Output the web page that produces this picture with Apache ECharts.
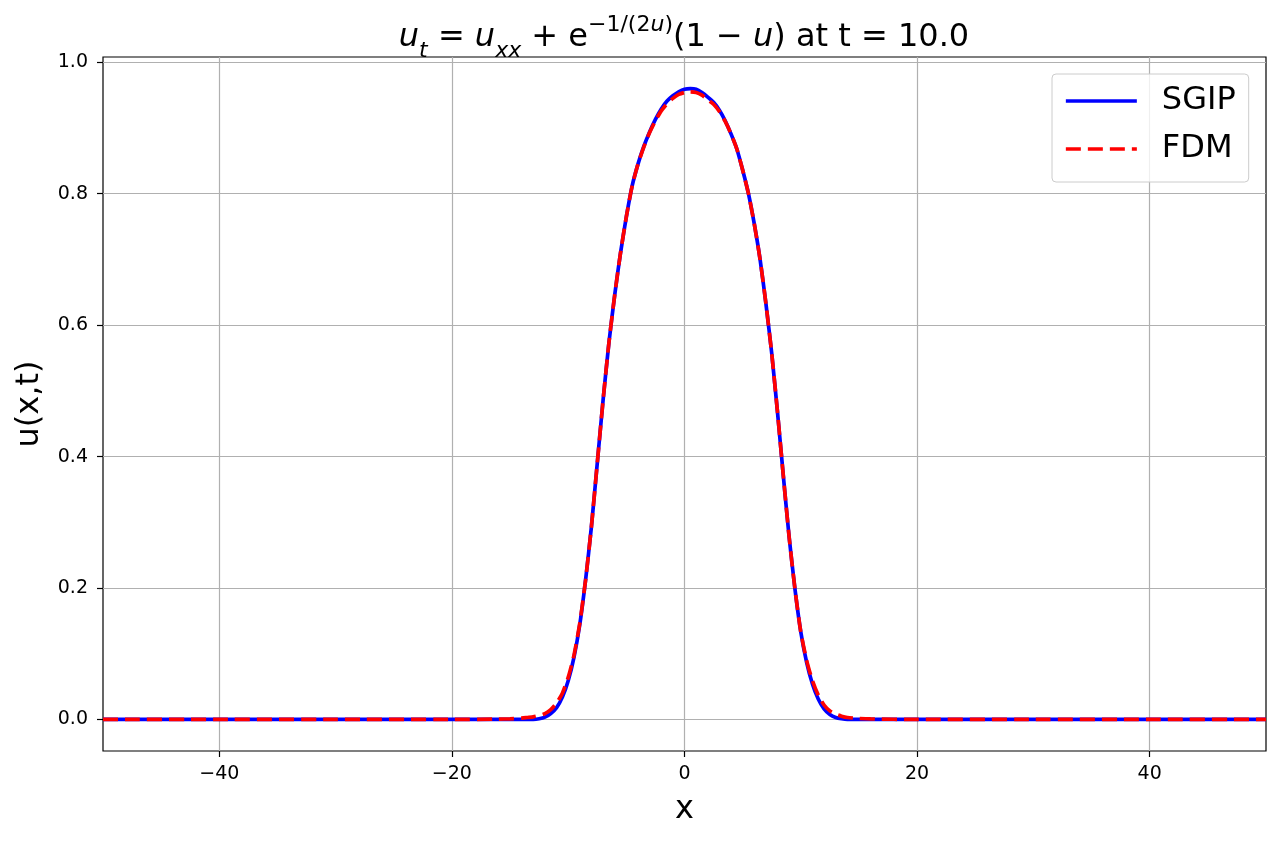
<!DOCTYPE html>
<html>
<head>
<meta charset="utf-8">
<title>u(x,t) at t = 10.0</title>
<script src="https://cdn.jsdelivr.net/npm/echarts@6/dist/echarts.min.js"></script>
<style>
  html, body { margin: 0; padding: 0; background: #fff; }
  #chart { width: 1281px; height: 841px; }
</style>
</head>
<body>
<div id="chart"></div>
<script>
  // 横轴 x
  let xValues = [-50, -40, -30, -20, -16, -15, -14, -13.5, -13, -12.5, -12, -11.5, -11, -10.5, -10,
    -9.5, -9, -8.5, -8, -7.5, -7, -6.5, -6, -5.5, -5, -4.5, -4, -3.5, -3, -2.5, -2, -1.5, -1, -0.5,
    0, 0.5, 1, 1.5, 2, 2.5, 3, 3.5, 4, 4.5, 5, 5.5, 6, 6.5, 7, 7.5, 8, 8.5, 9, 9.5, 10,
    10.5, 11, 11.5, 12, 12.5, 13, 13.5, 14, 15, 16, 20, 30, 40, 50]
  // SGIP 解
  let sgipValues = [0, 0, 0, 0, 0, 0, 0, 0, 0, 0.001, 0.0035, 0.009, 0.018, 0.034, 0.059,
    0.095, 0.145, 0.213, 0.294, 0.390, 0.486, 0.573, 0.646, 0.710, 0.765, 0.812, 0.845, 0.872, 0.894, 0.913, 0.929, 0.941, 0.949, 0.955,
    0.959, 0.960, 0.959, 0.954, 0.947, 0.939, 0.927, 0.911, 0.891, 0.868, 0.836, 0.800, 0.754, 0.700, 0.633, 0.557, 0.467, 0.370, 0.277, 0.198, 0.133,
    0.087, 0.054, 0.031, 0.016, 0.0075, 0.003, 0.001, 0, 0, 0, 0, 0, 0, 0]
  // FDM 解
  let fdmValues = [0, 0, 0, 0, 0.0005, 0.001, 0.002, 0.003, 0.004, 0.006, 0.009, 0.015, 0.025, 0.040, 0.064,
    0.098, 0.147, 0.213, 0.294, 0.390, 0.486, 0.573, 0.646, 0.710, 0.765, 0.812, 0.845, 0.871, 0.893, 0.911, 0.926, 0.937, 0.945, 0.951,
    0.954, 0.955, 0.954, 0.950, 0.943, 0.936, 0.925, 0.910, 0.891, 0.868, 0.836, 0.800, 0.754, 0.700, 0.633, 0.557, 0.467, 0.370, 0.277, 0.198, 0.133,
    0.090, 0.059, 0.037, 0.022, 0.013, 0.008, 0.005, 0.003, 0.0015, 0.0008, 0, 0, 0, 0]
  // 刻度
  let xTicks = [-40, -20, 0, 20, 40]
  let yTicks = [0, 0.2, 0.4, 0.6, 0.8, 1.0]

  let font = 'DejaVu Sans'

  function pairUp (ys) {
    return xValues.map((x, i) => [x, ys[i]])
  }

  let myChart = echarts.init(document.getElementById('chart'), null, { renderer: 'canvas' })

  let axisTickStyle = { show: true, inside: false, length: 6, lineStyle: { color: '#000', width: 1.2 } }

  let option = {
    animation: false,
    backgroundColor: '#fff',
    title: {
      left: 684,
      top: 14,
      textAlign: 'center',
      padding: 0,
      text: '{i|u}{sb|t}{n| = }{i|u}{sb|xx}{n| + e}{sp|−1/(2}{spi|u}{sp|)}{n|(1 − }{i|u}{n|) at t = 10.0}',
      textStyle: {
        fontFamily: font,
        fontSize: 32,
        fontWeight: 'normal',
        color: '#000',
        rich: {
          n: { fontFamily: font, fontSize: 32, color: '#000', lineHeight: 48 },
          i: { fontFamily: font, fontSize: 32, color: '#000', lineHeight: 48, fontStyle: 'italic' },
          sb: { fontFamily: font, fontSize: 22, color: '#000', lineHeight: 32, fontStyle: 'italic', verticalAlign: 'bottom' },
          sp: { fontFamily: font, fontSize: 22, color: '#000', lineHeight: 26, verticalAlign: 'top' },
          spi: { fontFamily: font, fontSize: 22, color: '#000', lineHeight: 26, verticalAlign: 'top', fontStyle: 'italic' }
        }
      }
    },
    legend: {
      orient: 'vertical',
      left: 1052,
      top: 74,
      padding: [9, 13, 15, 12],
      itemWidth: 71,
      itemHeight: 14,
      itemGap: 12,
      backgroundColor: 'rgba(255,255,255,0.8)',
      borderColor: '#cccccc',
      borderWidth: 1,
      borderRadius: 4,
      itemStyle: { opacity: 0 }, // 图例只画线，不画圆点
      lineStyle: { width: 3.7 },
      textStyle: { fontFamily: font, fontSize: 32, color: '#000', lineHeight: 36, padding: [0, 0, 0, 20] },
      data: ['SGIP', 'FDM']
    },
    grid: {
      left: 103,
      right: 15,
      top: 57,
      bottom: 90,
      show: true,
      borderColor: '#000',
      borderWidth: 1.2,
      backgroundColor: 'transparent',
      containLabel: false,
      outerBoundsMode: 'none'
    },
    xAxis: {
      type: 'value',
      min: -50,
      max: 50,
      name: 'x',
      nameLocation: 'middle',
      nameGap: 43,
      nameTextStyle: { fontFamily: font, fontSize: 32, color: '#000' },
      axisLine: { show: false, onZero: false },
      axisTick: Object.assign({ customValues: xTicks }, axisTickStyle),
      axisLabel: {
        customValues: xTicks,
        margin: 14,
        fontFamily: font,
        fontSize: 19,
        color: '#000',
        formatter: function (v) {
          return String(v).replace('-', '−')
        }
      },
      splitLine: { show: true, lineStyle: { color: '#b0b0b0', width: 1.2 } }
    },
    yAxis: {
      type: 'value',
      min: -0.048,
      max: 1.008,
      name: 'u(x,t)',
      nameLocation: 'middle',
      nameRotate: 90,
      nameGap: 57,
      nameTextStyle: { fontFamily: font, fontSize: 32, color: '#000' },
      axisLine: { show: false, onZero: false },
      axisTick: Object.assign({ customValues: yTicks }, axisTickStyle),
      axisLabel: {
        customValues: yTicks,
        margin: 15,
        fontFamily: font,
        fontSize: 19,
        color: '#000',
        formatter: function (v) {
          return v.toFixed(1)
        }
      },
      splitLine: { show: true, lineStyle: { color: '#b0b0b0', width: 1.2 } }
    },
    series: [
      {
        name: 'SGIP',
        type: 'line',
        symbol: 'none',
        showSymbol: false,
        smooth: 0.2,
        z: 2,
        lineStyle: { color: '#0000ff', width: 3.7 },
        itemStyle: { color: '#0000ff' },
        data: pairUp(sgipValues)
      },
      {
        name: 'FDM',
        type: 'line',
        symbol: 'none',
        showSymbol: false,
        smooth: 0.2,
        z: 3,
        lineStyle: { color: '#ff0000', width: 3.7, type: [15, 7] },
        itemStyle: { color: '#ff0000' },
        data: pairUp(fdmValues)
      }
    ]
  }

  myChart.setOption(option)
</script>
</body>
</html>
